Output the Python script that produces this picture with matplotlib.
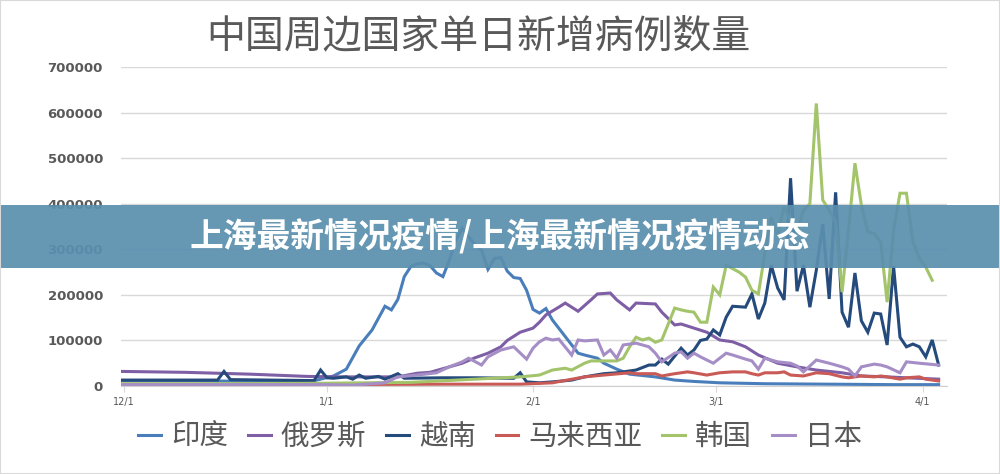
import matplotlib
matplotlib.use("Agg")
import matplotlib.pyplot as plt
from matplotlib.patches import Rectangle

plt.rcParams['font.family'] = ['Noto Sans CJK SC', 'DejaVu Sans']

# day index counted from 12/1, values are daily new cases
india_days = [0, 10, 20, 29, 33, 35, 37, 39, 41, 42, 43, 44, 45, 46, 47, 48, 49, 50, 51, 52, 53, 54, 55, 56,
              57, 58, 59, 60, 61, 62, 63, 64, 65, 66, 67, 71, 72, 74, 75, 77, 79, 83, 86, 89, 93, 100, 110, 120, 127]
india_vals = [12, 12, 10, 8, 22, 37, 88, 123, 175, 167, 190, 240, 262, 268, 270, 264, 248, 240, 276, 320, 346, 327, 310, 298,
              256, 280, 282, 252, 238, 236, 210, 168, 160, 170, 145, 72, 68, 61, 50, 37, 26, 20, 13, 10, 7, 5, 4, 3, 3]

russia_days = [0, 10, 20, 29, 35, 43, 46, 48, 50, 53, 55, 57, 59, 60, 62, 64, 65, 66, 68, 69, 71, 73, 74, 76, 77, 79,
               80, 83, 84, 86, 87, 89, 91, 93, 95, 97, 99, 102, 105, 108, 112, 115, 119, 122, 127]
russia_vals = [32, 30, 26, 21, 20, 20, 28, 30, 38, 50, 62, 72, 86, 100, 118, 127, 140, 156, 173, 182, 164, 189, 202, 204, 189, 167,
               182, 180, 162, 134, 136, 127, 118, 101, 97, 86, 68, 50, 42, 35, 29, 22, 20, 18, 15]

vietnam_days = [0, 15, 16, 17, 29, 30, 31, 32, 33, 35, 36, 37, 38, 40, 41, 43, 44, 50, 55, 61, 62, 63, 65, 67, 70, 72,
                75, 77, 80, 82, 83, 84, 85, 87, 88, 89, 90, 91, 92, 93, 94, 95, 97, 98, 99, 100, 101, 102, 103, 104,
                105, 106, 107, 108, 109, 110, 111, 112, 113, 114, 115, 116, 117, 118, 119, 120, 121, 122, 123, 124,
                125, 126, 127]
vietnam_vals = [13, 13, 32, 14, 12, 12, 35, 18, 17, 20, 15, 24, 17, 21, 15, 27, 17, 18, 18, 17, 29, 9, 7, 9, 13, 20,
                27, 29, 35, 46, 46, 59, 48, 83, 68, 79, 100, 103, 123, 112, 151, 175, 173, 202, 147, 182, 265, 215, 189, 456,
                208, 265, 173, 254, 355, 191, 425, 162, 129, 248, 143, 118, 160, 158, 90, 263, 107, 86, 92, 86,
                64, 101, 46]

malaysia_days = [0, 30, 50, 62, 67, 72, 75, 79, 80, 83, 84, 86, 88, 89, 91, 93, 95, 97, 98, 99, 100, 102, 103, 104,
                 106, 108, 110, 112, 113, 115, 117, 118, 119, 121, 122, 124, 125, 127]
malaysia_vals = [4, 3, 4, 4, 7, 20, 24, 29, 27, 27, 22, 27, 31, 29, 24, 29, 31, 31, 27, 24, 29, 29, 31, 24,
                 22, 29, 27, 20, 18, 22, 20, 22, 20, 15, 18, 20, 15, 11]

korea_days = [0, 15, 31, 45, 55, 62, 65, 67, 69, 70, 72, 73, 77, 78, 79, 80, 81, 82, 83, 84, 86, 87, 88, 89, 90, 91,
              92, 93, 94, 96, 97, 98, 99, 100, 101, 102, 103, 104, 105, 106, 107, 108, 109, 110, 111, 112, 113,
              114, 115, 116, 117, 118, 119, 120, 121, 122, 123, 124, 125, 126]
korea_vals = [5, 5, 6, 8, 15, 20, 24, 35, 39, 35, 50, 55, 55, 61, 86, 107, 101, 105, 96, 101, 171, 167, 164, 162, 140, 140,
              217, 200, 265, 250, 239, 210, 202, 290, 370, 330, 395, 360, 340, 385, 400, 620, 408, 386, 360, 206, 342,
              489, 397, 338, 335, 316, 184, 342, 423, 423, 316, 281, 261, 232]

japan_days = [0, 20, 31, 36, 41, 43, 46, 49, 51, 53, 54, 56, 57, 59, 61, 63, 64, 65, 66, 67, 68, 70, 71, 72, 74, 75,
              76, 77, 78, 80, 82, 83, 84, 86, 87, 88, 89, 90, 92, 94, 95, 97, 98, 99, 100, 102, 104, 105, 106, 108,
              110, 112, 113, 114, 115, 117, 118, 119, 121, 122, 124, 127]
japan_vals = [3, 3, 3, 2, 7, 20, 24, 29, 42, 53, 61, 46, 64, 79, 86, 59, 83, 97, 105, 101, 103, 68, 101, 99, 101, 68,
              79, 61, 90, 94, 86, 72, 53, 72, 75, 61, 72, 64, 50, 72, 68, 59, 55, 37, 61, 53, 50, 44, 31, 57,
              50, 42, 37, 22, 42, 48, 46, 42, 29, 53, 50, 46]

names = ['印度', '俄罗斯', '越南', '马来西亚', '韩国', '日本']
colors = ['#4a7ebb', '#7e5fa6', '#254a7c', '#c95a55', '#a3c46b', '#a58ec6']

tick_pos = [0.5, 32, 64, 92.4, 124.5]
tick_labels = ['12/1', '1/1', '2/1', '3/1', '4/1']

series = [(india_days, india_vals), (russia_days, russia_vals), (vietnam_days, vietnam_vals),
          (malaysia_days, malaysia_vals), (korea_days, korea_vals), (japan_days, japan_vals)]

fig = plt.figure(figsize=(10, 4.74), dpi=100)
ax = fig.add_axes([0.121, 1 - 386 / 474, 0.826, (386 - 67) / 474])

for (d, v), name, c in zip(series, names, colors):
    ax.plot(d, [x * 1000 for x in v], color=c, lw=2.2, label=name, solid_joinstyle='miter')

ax.set_xlim(0, 128.3)
ax.set_ylim(0, 700000)
ax.set_yticks(range(0, 700001, 100000))
ax.set_yticklabels([str(t) for t in range(0, 700001, 100000)], family='DejaVu Sans',
                   fontweight='bold', fontsize=9.5, color='#595959')
ax.set_xticks(tick_pos)
ax.set_xticklabels(tick_labels, family='DejaVu Sans', fontsize=7, color='#595959')
ax.tick_params(axis='y', length=0, pad=13)
ax.tick_params(axis='x', length=4, color='#d9d9d9', pad=4)
ax.grid(axis='y', color='#d9d9d9', lw=1)
ax.set_axisbelow(True)
for s in ['top', 'right', 'left']:
    ax.spines[s].set_visible(False)
ax.spines['bottom'].set_color('#d0d0d0')

fig.text(0.478, 1 - 37 / 474, '中国周边国家单日新增病例数量', ha='center', va='center',
         fontsize=28, color='#595959')

fig.legend(loc='center', bbox_to_anchor=(0.5, 1 - 437 / 474), ncol=6, frameon=False,
           fontsize=20.5, handlelength=0.8, handletextpad=0.35, columnspacing=0.7,
           labelcolor='#595959')

fig.patches.append(Rectangle((0, 1 - 268 / 474), 1, 63 / 474, transform=fig.transFigure,
                             facecolor='#5a8fae', edgecolor='none', alpha=0.93, zorder=5))
fig.text(0.5, 1 - 237 / 474, '上海最新情况疫情/上海最新情况疫情动态', ha='center', va='center',
         fontsize=24.3, fontweight='bold', color='white', zorder=6)
fig.patches.append(Rectangle((0, 0), 1, 1, transform=fig.transFigure, fill=False,
                             edgecolor='#d9d9d9', lw=1.5, zorder=7))

fig.savefig('out.png', dpi=100)
